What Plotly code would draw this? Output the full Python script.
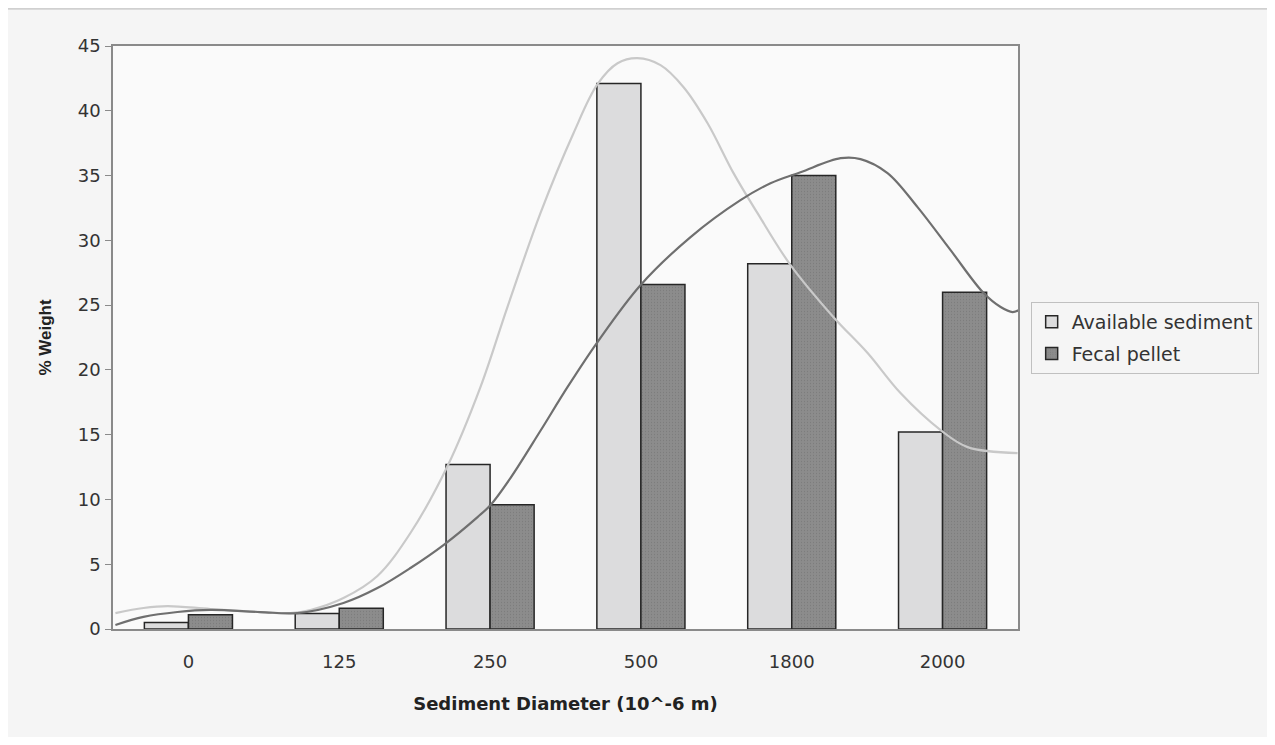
import plotly.graph_objects as go

categories = ["0", "125", "250", "500", "1800", "2000"]
available = [0.5, 1.2, 12.7, 42.1, 28.2, 15.2]
fecal = [1.1, 1.6, 9.6, 26.6, 35.0, 26.0]

# smoothed trend curves (x in category-index units, y in % weight)
avail_curve_x = [-0.484, -0.298, -0.139, 0.146, 0.477, 0.676, 0.809, 1.028, 1.253, 1.472,
                 1.718, 1.936, 2.115, 2.334, 2.553, 2.712, 2.845, 2.977, 3.130, 3.283,
                 3.442, 3.614, 3.773, 3.992, 4.277, 4.503, 4.721, 4.987, 5.166, 5.497]
avail_curve_y = [1.23, 1.62, 1.77, 1.54, 1.31, 1.23, 1.47, 2.39, 4.09, 7.41,
                 12.58, 18.67, 24.85, 32.10, 38.27, 42.05, 43.67, 44.06, 43.52, 41.82,
                 39.04, 35.19, 32.10, 28.09, 24.07, 21.30, 18.21, 15.35, 14.04, 13.58]
fecal_curve_x = [-0.484, -0.298, -0.073, 0.146, 0.477, 0.723, 1.028, 1.253, 1.472, 1.691,
                 1.917, 2.003, 2.135, 2.334, 2.513, 2.712, 2.997, 3.329, 3.660, 3.859,
                 4.058, 4.324, 4.456, 4.635, 4.834, 5.053, 5.272, 5.385, 5.464, 5.504]
fecal_curve_y = [0.31, 0.93, 1.31, 1.47, 1.31, 1.23, 2.01, 3.16, 4.71, 6.48,
                 8.64, 9.57, 11.65, 15.3, 18.67, 22.15, 26.54, 30.25, 33.10, 34.41,
                 35.26, 36.34, 36.27, 35.19, 32.56, 29.24, 25.93, 24.85, 24.46, 24.61]

x_idx = list(range(len(categories)))
font = "DejaVu Sans, Liberation Sans, Arial, sans-serif"

fig = go.Figure()
fig.add_trace(go.Bar(x=x_idx, y=available, name="Available sediment", legendgroup="a",
                     marker=dict(color="#dcdcdd", line=dict(color="#262626", width=1.5))))
fig.add_trace(go.Bar(x=x_idx, y=fecal, name="Fecal pellet", legendgroup="b",
                     marker=dict(color="#8c8c8c", line=dict(color="#262626", width=1.5),
                                 pattern=dict(shape=".", size=3, solidity=0.15, fgcolor="#6e6e6e"))))
fig.add_trace(go.Scatter(x=avail_curve_x, y=avail_curve_y, mode="lines", showlegend=False,
                         line=dict(color="#c9c9c9", width=2.2, shape="spline", smoothing=1)))
fig.add_trace(go.Scatter(x=fecal_curve_x, y=fecal_curve_y, mode="lines", showlegend=False,
                         line=dict(color="#6f6f6f", width=2.2, shape="spline", smoothing=1)))

fig.update_layout(
    width=1259, height=729,
    margin=dict(l=105, r=249, t=38, b=108, autoexpand=False),
    paper_bgcolor="#f5f5f5",
    plot_bgcolor="#fafafa",
    barmode="group", bargap=0.416, bargroupgap=0,
    font=dict(family=font, size=18, color="#333333"),
    legend=dict(x=1.014, y=0.561, xanchor="left", yanchor="top",
                bgcolor="rgba(0,0,0,0)", bordercolor="#c0c0c0", borderwidth=1,
                font=dict(size=19, color="#333333"), itemwidth=30, tracegroupgap=4),
    showlegend=True,
    shapes=[dict(type="line", xref="paper", yref="paper", x0=-0.125, x1=1.285, y0=1.064, y1=1.064,
                 line=dict(color="#d0d0d0", width=2))],
)
fig.update_xaxes(range=[-0.5, 5.5], tickvals=x_idx, ticktext=categories,
                 showline=True, linecolor="#8a8a8a", linewidth=1.5, mirror=True,
                 showgrid=False, zeroline=False, ticks="", ticklabelstandoff=16,
                 title=dict(text="<b>Sediment Diameter (10^-6 m)</b>", font=dict(size=18, color="#222"), standoff=26))
fig.update_yaxes(range=[0, 45], dtick=5, showline=True, linecolor="#8a8a8a", linewidth=1.5,
                 mirror=True, showgrid=False, zeroline=False, ticks="outside", ticklen=6,
                 tickcolor="#8a8a8a", ticklabelstandoff=1,
                 title=dict(text="<b>% Weight</b>",
                            font=dict(size=17, color="#222", family="Liberation Sans, Arial, sans-serif"),
                            standoff=22))

fig.write_html("out.html")
